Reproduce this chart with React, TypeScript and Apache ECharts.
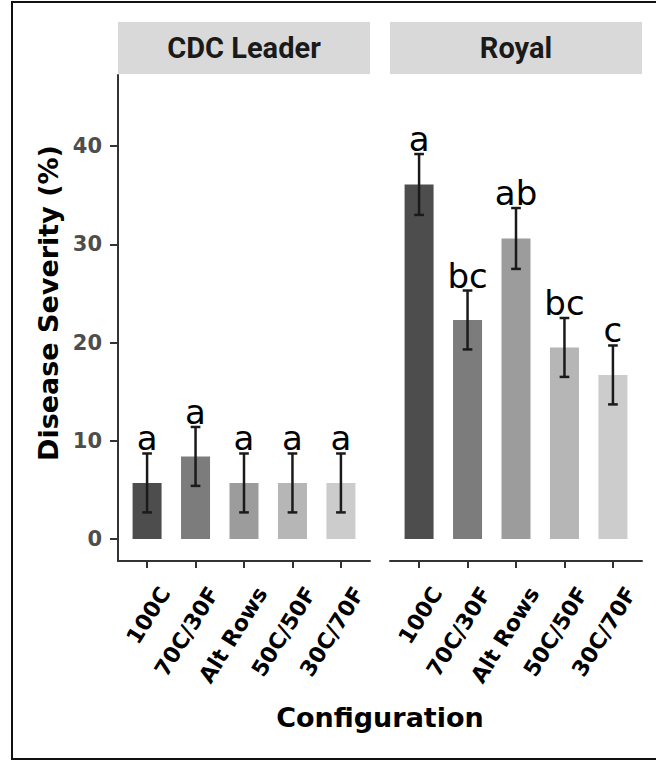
import React, { useEffect, useRef } from "react";
import * as echarts from "echarts";

const configurations = ["100C", "70C/30F", "Alt Rows", "50C/50F", "30C/70F"];
const panelNames = ["CDC Leader", "Royal"];
const cdcLeaderMean = [5.7, 8.4, 5.7, 5.7, 5.7];
const cdcLeaderSE = [3.0, 3.0, 3.0, 3.0, 3.0];
const cdcLeaderLetters = ["a", "a", "a", "a", "a"];
const royalMean = [36.1, 22.3, 30.6, 19.5, 16.7];
const royalSE = [3.1, 3.0, 3.1, 3.0, 3.0];
const royalLetters = ["a", "bc", "ab", "bc", "c"];
const yTicks = [0, 10, 20, 30, 40];
const xPositions = [1, 2, 3, 4, 5];
const barGreys = ["#4d4d4d", "#7c7c7c", "#9c9c9c", "#b6b6b6", "#cccccc"];

const AXIS_COLOR = "#333333";
const BOLD_FONT = "DejaVu Sans";

export default function App() {
  const ref = useRef<HTMLDivElement>(null);

  useEffect(() => {
    if (!ref.current) return;
    const chart = echarts.init(ref.current, undefined, { renderer: "svg" });

    const panels = [
      { mean: cdcLeaderMean, se: cdcLeaderSE, letters: cdcLeaderLetters, left: 118 },
      { mean: royalMean, se: royalSE, letters: royalLetters, left: 390 },
    ];
    const gridTop = 75;
    const gridHeight = 486;
    const gridWidth = 252;

    const grids = panels.map((p) => ({ left: p.left, top: gridTop, width: gridWidth, height: gridHeight, show: false }));

    const xAxes = panels.map((p, i) => ({
      gridIndex: i,
      type: "value",
      min: 0.4,
      max: 5.6,
      position: "bottom",
      axisLine: { show: true, onZero: false, lineStyle: { color: AXIS_COLOR, width: 2 } },
      axisTick: { show: true, length: 7, customValues: xPositions, lineStyle: { color: AXIS_COLOR, width: 2 } },
      axisLabel: {
        customValues: xPositions,
        formatter: (v: number) => configurations[Math.round(v) - 1] ?? "",
        rotate: 58,
        verticalAlign: "top",
        padding: [10, 0, 0, 0],
        margin: 17,
        fontFamily: BOLD_FONT,
        fontWeight: "bold",
        fontSize: 22,
        color: "#000000",
      },
      splitLine: { show: false },
    }));

    const yAxes = panels.map((p, i) => {
      const shown = i === 0;
      return {
        gridIndex: i,
        type: "value",
        show: shown,
        min: -2.25,
        max: 47.25,
        axisLine: { show: shown, onZero: false, lineStyle: { color: AXIS_COLOR, width: 2 } },
        axisTick: { show: shown, length: 8, customValues: yTicks, lineStyle: { color: AXIS_COLOR, width: 2 } },
        axisLabel: {
          show: shown,
          customValues: yTicks,
          margin: 16,
          fontFamily: BOLD_FONT,
          fontWeight: "bold",
          fontSize: 21,
          color: "#4d4d4d",
        },
        splitLine: { show: false },
      };
    });

    const series: any[] = [];
    panels.forEach((p, i) => {
      series.push({
        type: "bar",
        xAxisIndex: i,
        yAxisIndex: i,
        barWidth: 29,
        z: 2,
        data: p.mean.map((m, k) => ({
          value: [xPositions[k], m],
          itemStyle: { color: barGreys[k] },
        })),
      });
      series.push({
        type: "custom",
        xAxisIndex: i,
        yAxisIndex: i,
        z: 10,
        data: p.mean.map((m, k) => [xPositions[k], m, p.se[k]]),
        renderItem: (params: any, api: any) => {
          const x = api.value(0);
          const m = api.value(1);
          const se = api.value(2);
          const top = api.coord([x, m + se]);
          const bot = api.coord([x, m - se]);
          const half = api.size([0.1, 0])[0];
          const lineStyle = { stroke: "#1a1a1a", lineWidth: 2.5 };
          return {
            type: "group",
            children: [
              { type: "line", shape: { x1: top[0], y1: top[1], x2: bot[0], y2: bot[1] }, style: lineStyle },
              { type: "line", shape: { x1: top[0] - half, y1: top[1], x2: top[0] + half, y2: top[1] }, style: lineStyle },
              { type: "line", shape: { x1: bot[0] - half, y1: bot[1], x2: bot[0] + half, y2: bot[1] }, style: lineStyle },
              {
                type: "text",
                x: top[0],
                y: top[1] + 2,
                style: {
                  text: p.letters[params.dataIndex],
                  fontFamily: "DejaVu Sans",
                  fontSize: 34,
                  fill: "#000000",
                  align: "center",
                  verticalAlign: "bottom",
                },
              },
            ],
          };
        },
      });
    });

    const graphic: any[] = [
      {
        type: "rect",
        shape: { x: 12, y: 2, width: 700, height: 757 },
        style: { fill: "none", stroke: "#111111", lineWidth: 2 },
        silent: true,
      },
    ];
    panels.forEach((p, i) => {
      graphic.push({
        type: "rect",
        shape: { x: p.left, y: 22, width: gridWidth, height: 52 },
        style: { fill: "#d9d9d9" },
      });
      graphic.push({
        type: "text",
        x: p.left + gridWidth / 2,
        y: 48,
        style: {
          text: panelNames[i],
          fontFamily: "Roboto",
          fontWeight: "bold",
          fontSize: 29,
          fill: "#1a1a1a",
          align: "center",
          verticalAlign: "middle",
        },
      });
    });
    graphic.push({
      type: "text",
      x: 48,
      y: 303,
      rotation: Math.PI / 2,
      style: {
        text: "Disease Severity (%)",
        fontFamily: BOLD_FONT,
        fontWeight: "bold",
        fontSize: 27,
        fill: "#000000",
        align: "center",
        verticalAlign: "middle",
      },
    });
    graphic.push({
      type: "text",
      x: 380,
      y: 717,
      style: {
        text: "Configuration",
        fontFamily: BOLD_FONT,
        fontWeight: "bold",
        fontSize: 27,
        fill: "#000000",
        align: "center",
        verticalAlign: "middle",
      },
    });

    chart.setOption({
      animation: false,
      backgroundColor: "#ffffff",
      grid: grids,
      xAxis: xAxes,
      yAxis: yAxes,
      series,
      graphic,
    });

    return () => chart.dispose();
  }, []);

  return (
    <div
      ref={ref}
      style={{ position: "fixed", left: 0, top: 0, width: 656, height: 762 }}
    />
  );
}
